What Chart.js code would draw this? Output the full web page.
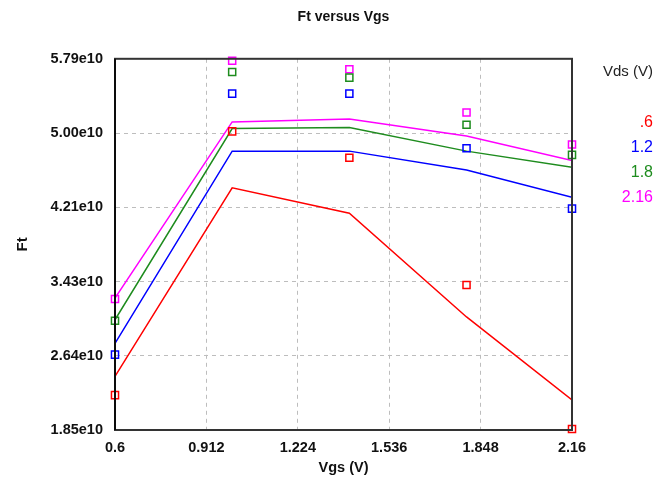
<!DOCTYPE html>
<html>
<head>
<meta charset="utf-8">
<script src="https://cdn.jsdelivr.net/npm/chart.js@4/dist/chart.umd.min.js"></script>
<style>
  html, body { margin: 0; padding: 0; background: #fff; }
  #wrap { width: 667px; height: 488px; }
</style>
</head>
<body>
<div id="wrap"><canvas id="chart" width="667" height="488"></canvas></div>
<script>
// Vgs sweep points (V)
const vgs = [0.6, 1.0, 1.4, 1.8, 2.16];

// fitted Ft curves, one per Vds
const fitVds06 = [2.42e10, 4.42e10, 4.15e10, 3.05e10, 2.17e10];
const fitVds12 = [2.77e10, 4.81e10, 4.81e10, 4.61e10, 4.32e10];
const fitVds18 = [3.02e10, 5.05e10, 5.06e10, 4.81e10, 4.64e10];
const fitVds216 = [3.25e10, 5.12e10, 5.15e10, 4.97e10, 4.71e10];

// measured Ft points (square markers)
const measVds06 = [2.22e10, 5.02e10, 4.74e10, 3.39e10, 1.86e10];
const measVds12 = [2.65e10, 5.42e10, 5.42e10, 4.84e10, 4.20e10];
const measVds18 = [3.01e10, 5.65e10, 5.59e10, 5.09e10, 4.77e10];
const measVds216 = [3.24e10, 5.77e10, 5.68e10, 5.22e10, 4.88e10];

const vdsLabels = ['.6', '1.2', '1.8', '2.16'];

const xTicks = [0.6, 0.912, 1.224, 1.536, 1.848, 2.16];
const xTickLabels = ['0.6', '0.912', '1.224', '1.536', '1.848', '2.16'];
const yTicks = [1.85e10, 2.638e10, 3.426e10, 4.214e10, 5.002e10, 5.79e10];
const yTickLabels = ['1.85e10', '2.64e10', '3.43e10', '4.21e10', '5.00e10', '5.79e10'];

const FONT = "'Liberation Sans', Arial, sans-serif";
const colors = ['rgb(255,0,0)', 'rgb(0,0,255)', 'rgb(30,140,30)', 'rgb(255,0,255)'];

function pts(ys) {
    return vgs.map((x, i) => ({ x: x, y: ys[i] }));
}

function fitSet(ys, i) {
    return {
        label: vdsLabels[i],
        data: pts(ys),
        borderColor: colors[i],
        borderWidth: 1.5,
        pointRadius: 0,
        tension: 0,
        fill: false
    };
}

function measSet(ys, i) {
    return {
        label: vdsLabels[i] + ' meas',
        data: pts(ys),
        showLine: false,
        pointStyle: 'rect',
        pointRadius: 5,
        pointBorderWidth: 1.5,
        pointBorderColor: colors[i],
        pointBackgroundColor: 'rgba(255,255,255,0)',
        borderColor: colors[i],
        clip: false
    };
}

// box round the plot + Vds legend on the right
const framePlugin = {
    id: 'frame',
    afterDatasetsDraw(chart) {
        const { ctx, chartArea: a } = chart;
        ctx.save();
        ctx.strokeStyle = '#333';
        ctx.lineWidth = 2;
        ctx.strokeRect(a.left, a.top, a.right - a.left, a.bottom - a.top);
        ctx.strokeStyle = '#000';
        ctx.lineWidth = 1.5;
        ctx.beginPath();
        ctx.moveTo(a.left, a.top);
        ctx.lineTo(a.left, a.bottom);
        ctx.stroke();
        ctx.restore();
    },
    afterDraw(chart) {
        const { ctx, chartArea: a } = chart;
        const xr = a.right + 81;
        ctx.save();
        ctx.textAlign = 'right';
        ctx.textBaseline = 'middle';
        ctx.font = '15px ' + FONT;
        ctx.fillStyle = '#222';
        ctx.fillText('Vds (V)', xr, a.top + 13);
        ctx.font = '16px ' + FONT;
        vdsLabels.forEach((lab, i) => {
            ctx.fillStyle = colors[i];
            ctx.fillText(lab, xr, a.top + 64 + i * 25);
        });
        ctx.restore();
    }
};

const gridDash = { display: true, color: 'rgba(0,0,0,0)', dash: [4, 4] };

const ctx = document.getElementById('chart').getContext('2d');
new Chart(ctx, {
    type: 'line',
    data: {
        datasets: [
            measSet(measVds06, 0), measSet(measVds12, 1), measSet(measVds18, 2), measSet(measVds216, 3),
            fitSet(fitVds06, 0), fitSet(fitVds12, 1), fitSet(fitVds18, 2), fitSet(fitVds216, 3)
        ]
    },
    options: {
        responsive: false,
        animation: false,
        layout: { padding: { left: 0, right: 95, top: 0, bottom: 0 } },
        plugins: {
            legend: { display: false },
            tooltip: { enabled: false },
            title: {
                display: true,
                text: 'Ft versus Vgs',
                fullSize: false,
                color: '#111',
                font: { family: FONT, size: 14, weight: 'bold' },
                padding: { top: 9, bottom: 33 }
            }
        },
        scales: {
            x: {
                type: 'linear',
                min: 0.6,
                max: 2.16,
                afterBuildTicks: (s) => { s.ticks = xTicks.map(v => ({ value: v })); },
                afterFit: (s) => { s.height = 58; },
                ticks: {
                    padding: 9,
                    color: '#111',
                    font: { family: FONT, size: 14.5, weight: 'bold' },
                    callback: (v, i) => xTickLabels[i]
                },
                grid: { color: '#bdbdbd', drawTicks: false },
                border: gridDash,
                title: {
                    display: true,
                    text: 'Vgs (V)',
                    color: '#111',
                    font: { family: FONT, size: 14.5, weight: 'bold' },
                    padding: { top: 11, bottom: 11 }
                }
            },
            y: {
                min: 1.85e10,
                max: 5.79e10,
                afterBuildTicks: (s) => { s.ticks = yTicks.map(v => ({ value: v })); },
                afterFit: (s) => { s.width = 115; },
                ticks: {
                    padding: 12,
                    color: '#111',
                    font: { family: FONT, size: 14.5, weight: 'bold' },
                    callback: (v, i) => yTickLabels[i]
                },
                grid: { color: '#bdbdbd', drawTicks: false },
                border: gridDash,
                title: {
                    display: true,
                    text: 'Ft',
                    color: '#111',
                    font: { family: FONT, size: 15, weight: 'bold' },
                    padding: { top: 14, bottom: 14 }
                }
            }
        }
    },
    plugins: [framePlugin]
});
</script>
</body>
</html>
